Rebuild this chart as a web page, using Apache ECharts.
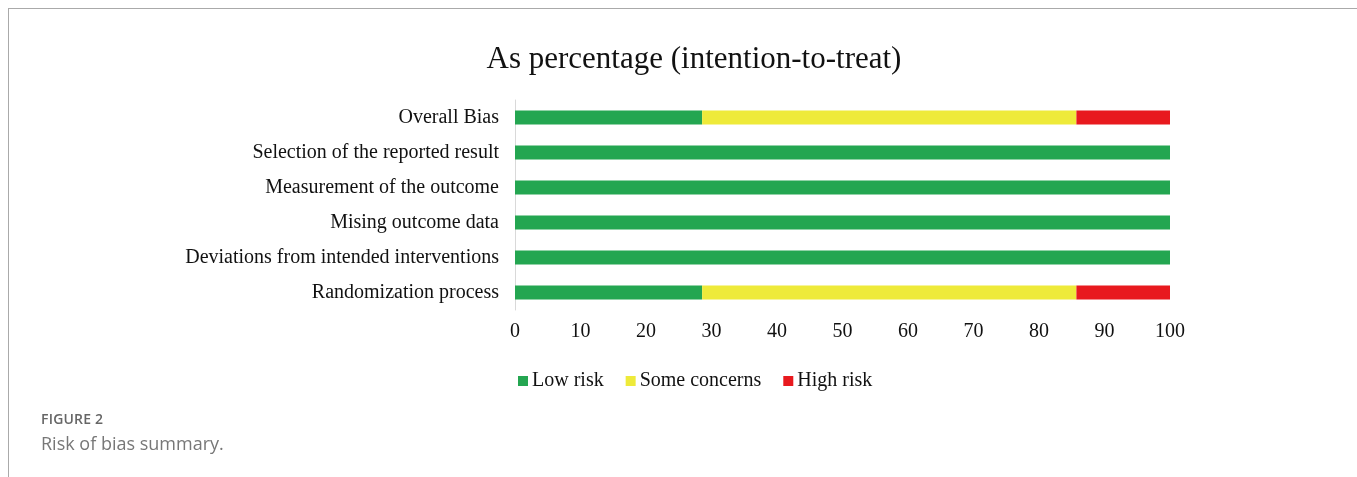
<!DOCTYPE html>
<html>
<head>
<meta charset="utf-8">
<script src="https://cdn.jsdelivr.net/npm/echarts@6/dist/echarts.min.js"></script>
<style>
  html, body { margin: 0; padding: 0; background: #fff; }
  #frame { position: absolute; left: 8px; top: 8px; width: 1349px; height: 469px;
           border-left: 1px solid #aaa; border-top: 1px solid #aaa; }
  #chart { position: absolute; left: 0; top: 0; width: 1357px; height: 477px; }
  .cap1 { position: absolute; left: 41px; top: 409px; font: 600 14px "Open Sans", sans-serif; color: #666; letter-spacing: 0.2px; }
  .cap2 { position: absolute; left: 41px; top: 431px; font: 18px "Open Sans", sans-serif; color: #777; }
</style>
</head>
<body>
<div id="frame"></div>
<div id="chart"></div>
<div class="cap1">FIGURE 2</div>
<div class="cap2">Risk of bias summary.</div>
<script>
'use strict';

// domains, top to bottom
var domains = [
  'Overall Bias',
  'Selection of the reported result',
  'Measurement of the outcome',
  'Mising outcome data',
  'Deviations from intended interventions',
  'Randomization process'
];
var lowRisk = [28.57, 100, 100, 100, 100, 28.57];
var someConcerns = [57.14, 0, 0, 0, 0, 57.14];
var highRisk = [14.29, 0, 0, 0, 0, 14.29];

var serif = '"Liberation Serif", "Times New Roman", serif';

var myChart = echarts.init(document.getElementById('chart'));

function bar(name, data, color) {
  return {
    name: name,
    type: 'bar',
    stack: 'total',
    barWidth: 14,
    itemStyle: { color: color },
    emphasis: { disabled: true },
    data: data
  };
}

var option = {
  animation: false,
  title: {
    text: 'As percentage (intention-to-treat)',
    left: 689,
    textAlign: 'center',
    top: 39,
    textStyle: { fontFamily: serif, fontSize: 31, fontWeight: 'normal', color: '#111' }
  },
  legend: {
    left: 513,
    top: 366,
    itemWidth: 10,
    itemHeight: 10,
    itemGap: 22,
    icon: 'rect',
    textStyle: { fontFamily: serif, fontSize: 20, color: '#111', padding: [0, 0, 0, -1] },
    data: ['Low risk', 'Some concerns', 'High risk']
  },
  grid: { left: 515, right: 187, top: 100, height: 210 },
  xAxis: {
    type: 'value',
    min: 0,
    max: 100,
    interval: 10,
    axisLine: { show: false },
    axisTick: { show: false },
    splitLine: { show: false },
    axisLabel: { fontFamily: serif, fontSize: 20, color: '#111', margin: 12 }
  },
  yAxis: {
    type: 'category',
    inverse: true,
    data: domains,
    axisLine: { show: true, lineStyle: { color: '#d9d9d9', width: 1 } },
    axisTick: { show: false },
    axisLabel: { fontFamily: serif, fontSize: 20, color: '#111', margin: 16 }
  },
  series: [
    bar('Low risk', lowRisk, '#24a651'),
    bar('Some concerns', someConcerns, '#eeea3a'),
    bar('High risk', highRisk, '#e8191e')
  ]
};

myChart.setOption(option);
</script>
</body>
</html>
